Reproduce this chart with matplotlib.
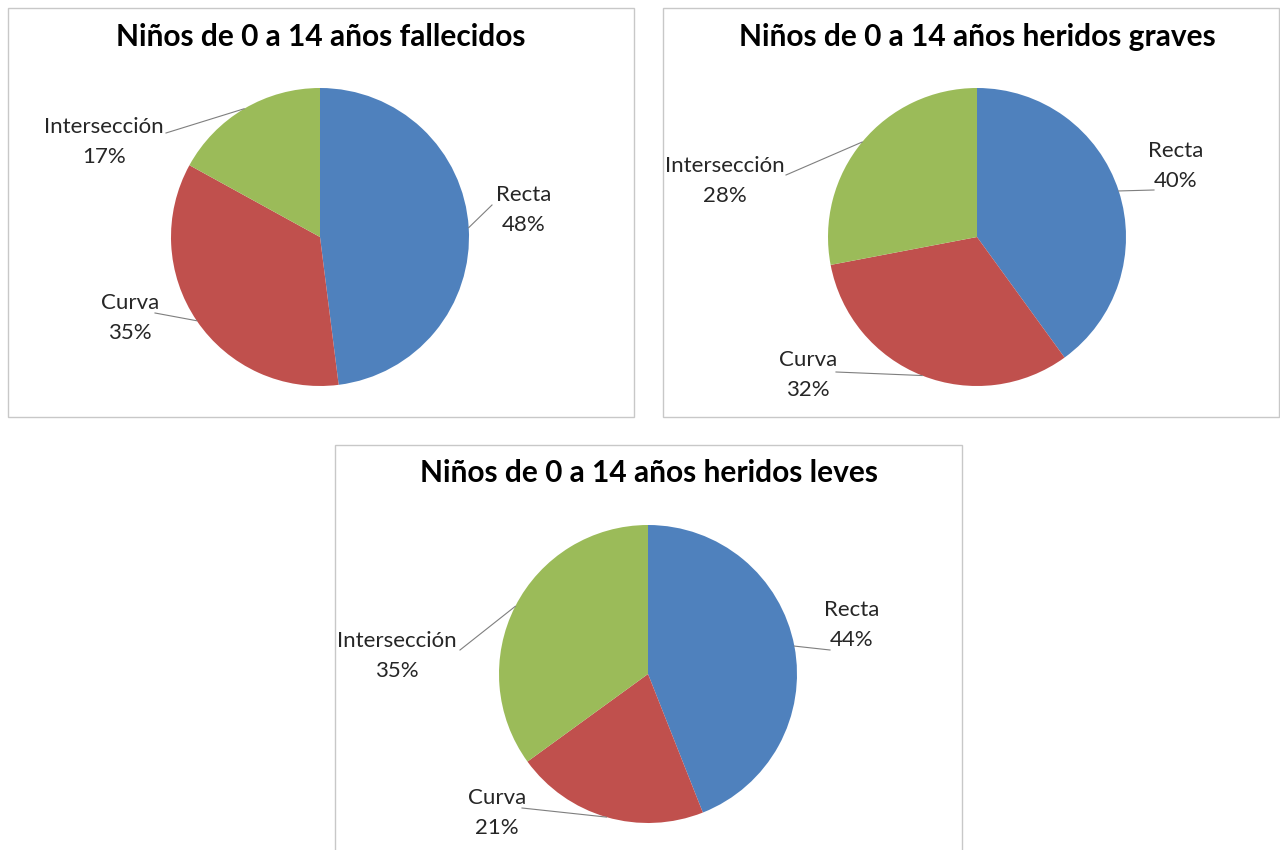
import matplotlib
matplotlib.use("Agg")
import matplotlib.pyplot as plt
from matplotlib.patches import Rectangle
import numpy as np

plt.rcParams['font.family'] = ['Lato', 'DejaVu Sans']

# ---- data ----
categories = ["Recta", "Curva", "Intersección"]
titles = ["Niños de 0 a 14 años fallecidos",
          "Niños de 0 a 14 años heridos graves",
          "Niños de 0 a 14 años heridos leves"]
fallecidos = [48, 35, 17]
heridos_graves = [40, 32, 28]
heridos_leves = [44, 21, 35]
colors = ["#4F81BD", "#C0504D", "#9BBB59"]

W, H = 1280, 850
fig = plt.figure(figsize=(W / 100, H / 100), dpi=100)
fig.patch.set_facecolor("white")

# layout in pixels (x, y from top-left)
panels = [
    dict(box=(8, 8, 634, 417), center=(320, 237), r=149, title_y=37, title_x=321,
         labels=[(524, 210), (130, 318), (104, 142)],
         ends=[(492, 205), (155, 313), (166, 133)]),
    dict(box=(663, 8, 1279, 417), center=(977, 237), r=149, title_y=37, title_x=977,
         labels=[(1176, 166), (808, 375), (725, 181)],
         ends=[(1154, 190), (836, 372), (786, 175)]),
    dict(box=(335, 445, 962, 860), center=(648, 674), r=149, title_y=473, title_x=649,
         labels=[(852, 625), (497, 813), (397, 656)],
         ends=[(830, 650), (522, 808), (460, 650)]),
]
datasets = [fallecidos, heridos_graves, heridos_leves]


def fx(x):
    return x / W


def fy(y):
    return 1 - y / H


for p, vals, title in zip(panels, datasets, titles):
    x0, y0, x1, y1 = p["box"]
    fig.patches.append(Rectangle((fx(x0), fy(y1)), fx(x1 - x0), (y1 - y0) / H,
                                 transform=fig.transFigure, fill=False,
                                 edgecolor="#C8C8C8", linewidth=1.0))
    fig.text(fx(p["title_x"]), fy(p["title_y"]), title, ha="center", va="center",
             fontsize=21.5, fontweight="bold", color="black")
    cx, cy = p["center"]
    r = p["r"]
    ax = fig.add_axes([fx(cx - r), fy(cy + r), 2 * r / W, 2 * r / H])
    wedges, _ = ax.pie(vals, colors=colors, startangle=90, counterclock=False,
                       radius=1, wedgeprops=dict(linewidth=0))
    ax.set_xlim(-1, 1)
    ax.set_ylim(-1, 1)
    ax.set_aspect("auto")
    ax.axis("off")
    total = sum(vals)
    for w, cat, v, (lx, ly), (ex, ey) in zip(wedges, categories, vals,
                                             p["labels"], p["ends"]):
        ang = np.deg2rad((w.theta1 + w.theta2) / 2)
        sx, sy = np.cos(ang), np.sin(ang)
        ax.plot([sx, (ex - cx) / r], [sy, (cy - ey) / r], color="#7F7F7F",
                linewidth=0.8, clip_on=False)
        ax.text((lx - cx) / r, (cy - ly) / r, f"{cat}\n{round(100 * v / total)}%",
                ha="center", va="center", fontsize=16, color="#262626",
                linespacing=1.6, clip_on=False)

fig.savefig("out.png", dpi=100, facecolor="white")
